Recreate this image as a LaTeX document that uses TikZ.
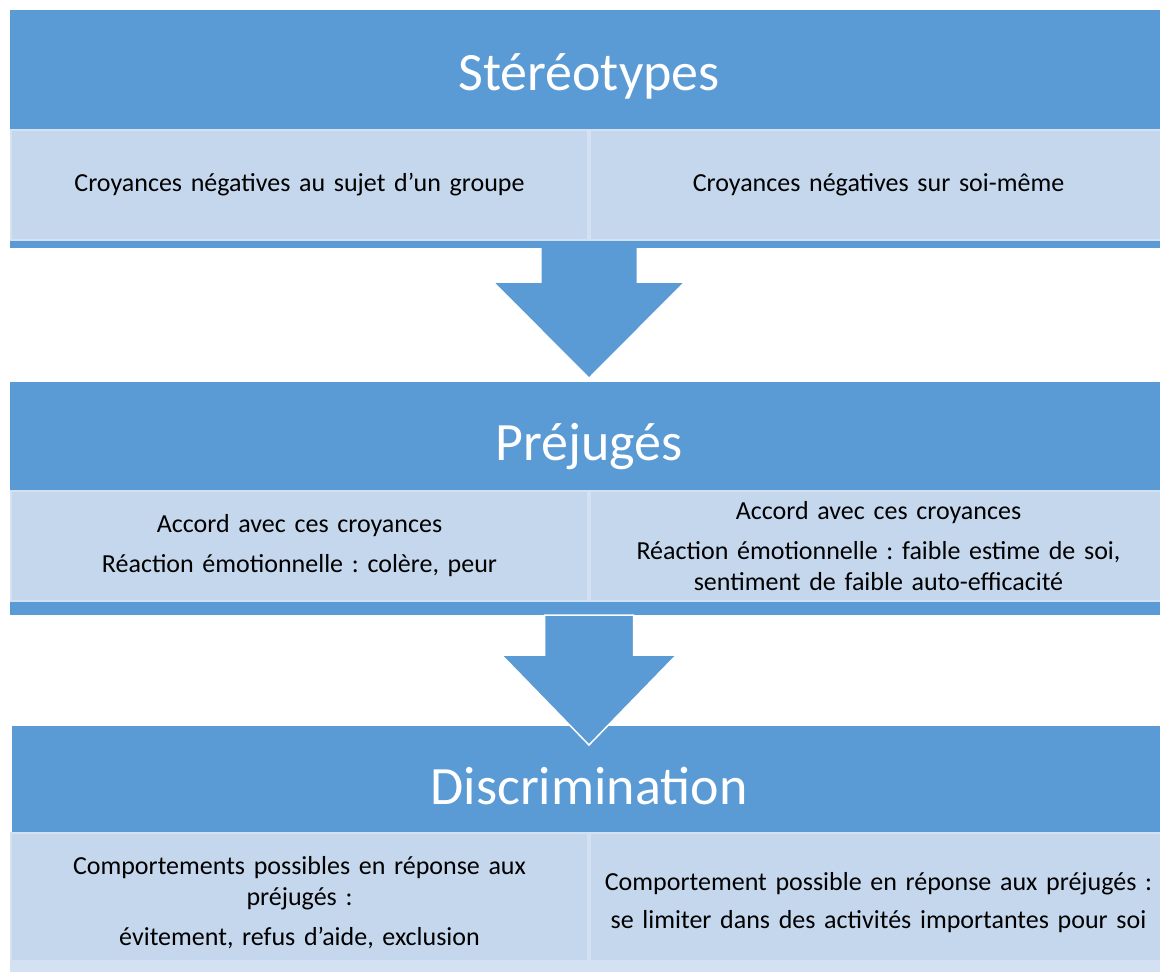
\documentclass[tikz,border=0pt]{standalone}
\usepackage{fontspec}
\setmainfont{Carlito}
\usepackage{tikz}
\usetikzlibrary{calc}
\tikzstyle{band} = [rectangle, anchor=north west, fill=bandblue, minimum width=1158pt, inner sep=0pt, outer sep=0pt]
\tikzstyle{cell} = [rectangle, anchor=north west, fill=celllight, draw=celledge, line width=1.5pt, minimum width=577pt, inner sep=0pt, outer sep=0pt, text width=550pt, align=center, font=\fontsize{26}{31}\selectfont\frenchspacing]
\tikzstyle{title} = [anchor=base, text=white, inner sep=0pt, font=\fontsize{54}{60}\selectfont]
\tikzstyle{flow} = [fill=bandblue]
\definecolor{bandblue}{RGB}{91,155,213}
\definecolor{celllight}{RGB}{197,215,237}
\definecolor{celledge}{RGB}{211,225,242}

\begin{document}
\begin{tikzpicture}[x=1pt, y=-1pt]
\useasboundingbox (0,0) rectangle (1160,972);
\fill[white] (0,0) rectangle (1160,972);
\node (blk1) [band, minimum height=238pt] at (10,10) {};
\node (stereo) [title] at (589,90) {Stéréotypes};
\node (c1l) [cell, minimum height=110pt] at (11,130) {Croyances négatives au sujet d’un groupe};
\node (c1r) [cell, minimum height=110pt] at (590,130) {Croyances négatives sur soi-même};
\node (blk2) [band, minimum height=233pt] at (10,382) {};
\node (prej) [title] at (589,460) {Préjugés};
\node (c2l) [cell, minimum height=110pt] at (11,491) {Accord avec ces croyances\\[9pt]
Réaction émotionnelle : colère, peur};
\node (c2r) [cell, minimum height=110pt] at (590,491) {Accord avec ces croyances\\[9pt]
Réaction émotionnelle : faible estime de soi,\\
sentiment de faible auto-efficacité};
\node (blk3) [band, minimum height=240pt] at (12,726) {};
\node (discr) [title] at (589,804) {Discrimination};
\node (c3l) [cell, minimum height=139pt] at (11,833) {Comportements possibles en réponse aux\\
préjugés :\\[9pt]
évitement, refus d’aide, exclusion};
\node (c3r) [cell, minimum height=139pt] at (590,833) {Comportement possible en réponse aux préjugés :\\[7pt]
se limiter dans des activités importantes pour soi};
\fill[celledge] (10,960) rectangle (1168,972);
\fill[flow] ($(blk1.south)+(-47.5,0)$) -- ++(0,35) -- ++(-46,0) -- ($(blk2.north)+(0,-5)$)
  -- ($(blk1.south)+(93.5,35)$) -- ++(-46,0) -- ($(blk1.south)+(47.5,0)$) -- cycle;
\filldraw[flow, draw=white, line width=1.5pt] ($(blk2.south)+(-44.5,0)$) -- ++(0,40) -- ++(-43,0) -- ($(blk3.north)+(-2,19)$)
  -- ($(blk2.south)+(87.5,40)$) -- ++(-43,0) -- ($(blk2.south)+(44.5,0)$) -- cycle;
\end{tikzpicture}
\end{document}
